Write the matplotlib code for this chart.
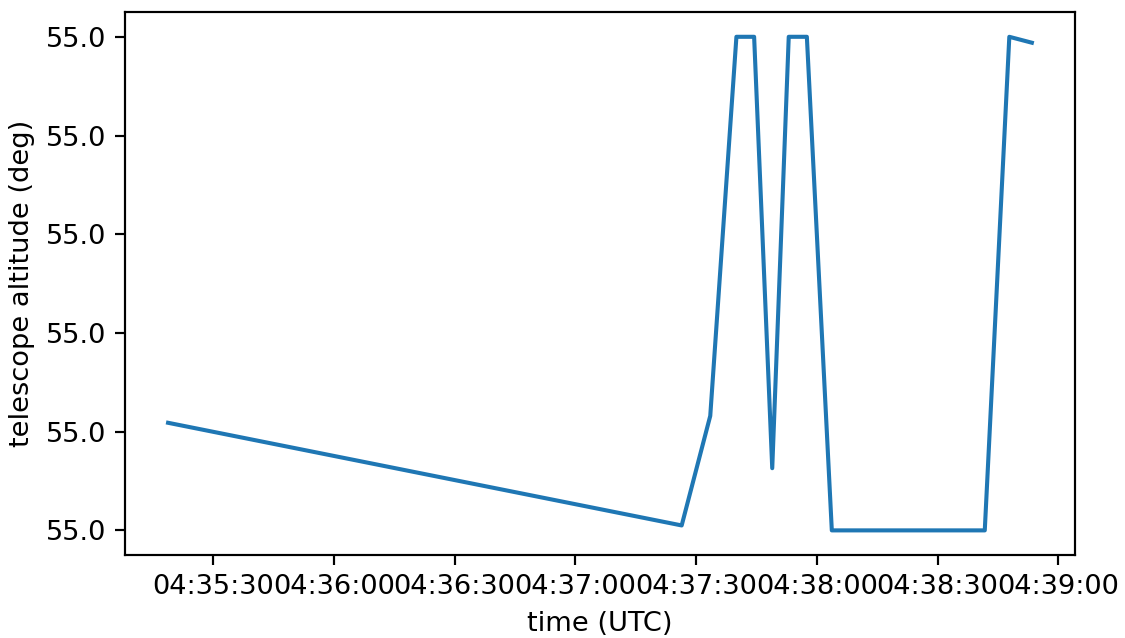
import matplotlib
matplotlib.use("Agg")
import matplotlib.pyplot as plt
import matplotlib.dates as mdates
from matplotlib.ticker import FormatStrFormatter
import pandas as pd

# telescope altitude samples (deg) — float noise around 55
times = ["04:35:18.8", "04:37:26.4", "04:37:33.5", "04:37:40.0", "04:37:44.4",
         "04:37:48.9", "04:37:53.0", "04:37:57.5", "04:38:03.7", "04:38:41.7",
         "04:38:47.8", "04:38:53.4"]
altitude = [54.99999909, 54.99999805, 54.99999916, 55.000003, 55.000003,
            54.99999863, 55.000003, 55.000003, 54.999998, 54.999998,
            55.000003, 55.00000294]

t = pd.to_datetime(["2024-01-01 " + s for s in times])

fig, ax = plt.subplots(figsize=(1125 / 196, 638 / 196), dpi=196)
fig.subplots_adjust(left=0.111, right=0.9556, top=0.981, bottom=0.130)
ax.plot(t, altitude, lw=1.5, color="tab:blue")
ax.xaxis.set_major_locator(mdates.SecondLocator(bysecond=[0, 30]))
ax.xaxis.set_major_formatter(mdates.DateFormatter("%H:%M:%S"))
ax.yaxis.set_major_formatter(FormatStrFormatter("%.1f"))
ax.set_xlabel("time (UTC)")
ax.set_ylabel("telescope altitude (deg)")
fig.savefig("out.png")
